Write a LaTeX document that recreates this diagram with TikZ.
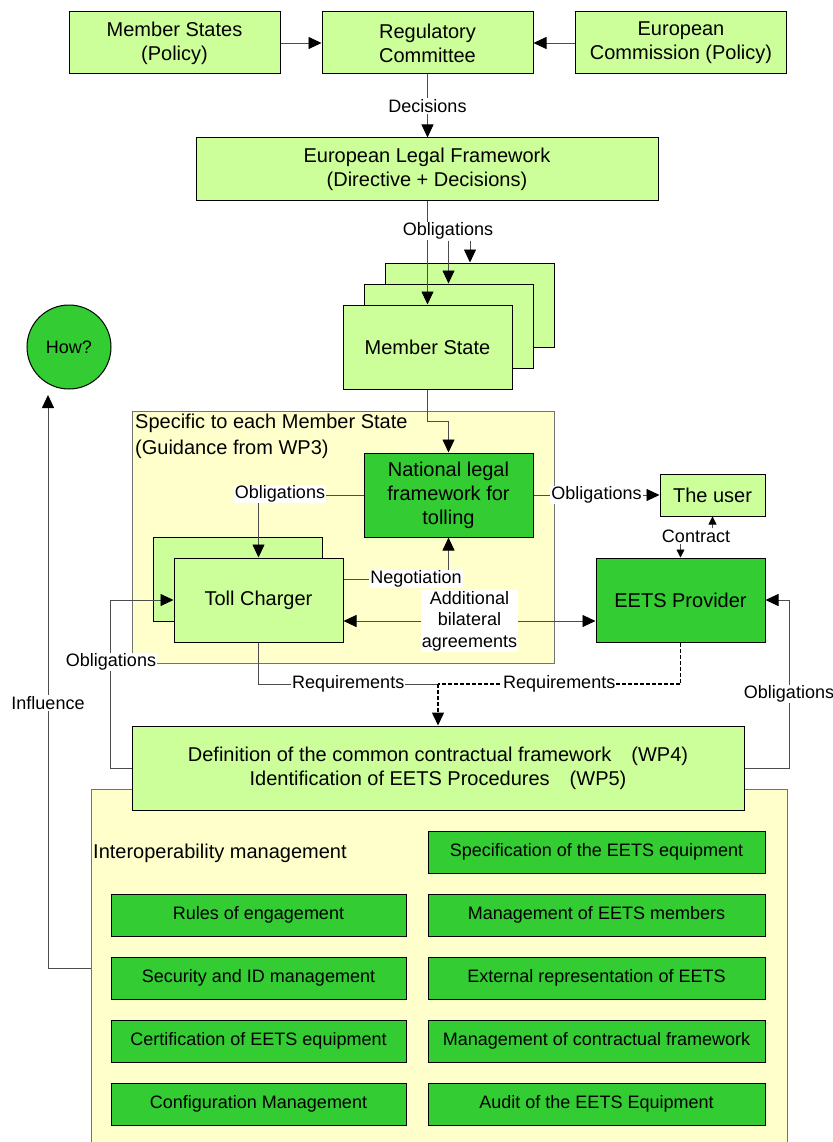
\documentclass[tikz,border=0pt]{standalone}
\usepackage{fontspec}
\setmainfont{Liberation Sans}
\usetikzlibrary{arrows.meta,positioning}
\definecolor{mylightgreen}{RGB}{204,255,153}
\definecolor{mygreen}{RGB}{51,204,51}
\definecolor{myyellow}{RGB}{255,255,204}
\newcommand{\mybigfont}{\fontsize{20}{24}\selectfont}
\newcommand{\mysmallfont}{\fontsize{18}{21.5}\selectfont}
\tikzstyle{lbox}=[draw,fill=mylightgreen,rectangle,line width=1pt,align=center,inner sep=0pt,font=\mybigfont]
\tikzstyle{topbox}=[lbox,minimum width=211pt,minimum height=62pt]
\tikzstyle{bigbox}=[lbox,minimum width=169pt,minimum height=84pt]
\tikzstyle{item}=[lbox,fill=mygreen,font=\mysmallfont,minimum height=42pt]
\tikzstyle{lbl}=[fill=white,inner sep=1pt,align=center,font=\mysmallfont]
\tikzstyle{region}=[fill=myyellow,draw=black!55,line width=0.8pt]
\tikzstyle{conn}=[draw=black!70,line width=0.8pt]
\tikzstyle{short}=[-{Triangle[length=8pt,width=8pt,color=black]}]
\tikzstyle{dashline}=[draw=black,line width=1.5pt,dash pattern=on 4pt off 2pt]

\begin{document}
\begin{tikzpicture}[x=1pt,y=-1pt,>={Triangle[length=13pt,width=12pt,color=black]}]
\useasboundingbox (0,0) rectangle (832,1142);
% yellow areas
\draw[region] (132,411) rectangle (554,663);
\fill[myyellow] (91,789) rectangle (787,1142);
\draw[draw=black!55,line width=0.8pt] (91,1142) -- (91,789) -- (787,789) -- (787,1142);
% top
\draw (174.5,43) node [topbox] (ms) {Member States\\(Policy)};
\draw (427.5,43) node [topbox] (rc) {Regulatory\\Committee};
\draw (681,43) node [topbox] (ec) {European\\Commission (Policy)};
\draw (427,169) node [lbox,minimum width=462pt,minimum height=62pt] (elf) {European Legal Framework\\(Directive + Decisions)};
\draw (470,305) node [bigbox] (msC) {};
\draw (448.5,326) node [bigbox] (msB) {};
\draw (427.5,347) node [bigbox] (msA) {Member State};
\draw (69,347) node [draw,fill=mygreen,circle,line width=1pt,minimum size=84pt,font=\mysmallfont] (how) {How?};
% member state level
\draw (133,412) node [anchor=north west,align=left,inner sep=2pt,font={\fontsize{20}{26}\selectfont}] (spec) {Specific to each Member State\\(Guidance from WP3)};
\draw (448.5,495) node [bigbox,fill=mygreen] (nlf) {National legal\\framework for\\tolling};
\draw (712.5,495) node [lbox,minimum width=105pt,minimum height=42pt] (user) {The user};
\draw (237.5,579) node [bigbox] (tcB) {};
\draw (258.5,600) node [bigbox] (tcA) {Toll Charger};
\draw (680.5,600) node [bigbox,fill=mygreen] (eets) {EETS Provider};
\draw (438,768) node [lbox,minimum width=612pt,minimum height=84pt] (def) {Definition of the common contractual framework\quad(WP4)\\Identification of EETS Procedures\quad(WP5)};
% interoperability management
\draw (91,853) node [anchor=west,inner sep=2pt,font=\mybigfont] (imgmt) {Interoperability management};
\draw (596.5,852) node [item,minimum width=337pt] (i1) {Specification of the EETS equipment};
\draw (258.5,915) node [item,minimum width=295pt] (i2) {Rules of engagement};
\draw (596.5,915) node [item,minimum width=337pt] (i3) {Management of EETS members};
\draw (258.5,978) node [item,minimum width=295pt] (i4) {Security and ID management};
\draw (596.5,978) node [item,minimum width=337pt] (i5) {External representation of EETS};
\draw (258.5,1041) node [item,minimum width=295pt] (i6) {Certification of EETS equipment};
\draw (596.5,1041) node [item,minimum width=337pt] (i7) {Management of contractual framework};
\draw (258.5,1104) node [item,minimum width=295pt] (i8) {Configuration Management};
\draw (596.5,1104) node [item,minimum width=337pt] (i9) {Audit of the EETS Equipment};
% connectors
\draw[conn,->] (ms) -- (rc);
\draw[conn,->] (ec) -- (rc);
\draw[conn,->] (rc.south) -- node[lbl] (dec) {Decisions} (rc.south |- elf.north);
\draw[conn,->] (msA.north |- elf.south) -- (msA.north);
\draw (448,231) node [lbl] (obl1) {Obligations};
\draw[conn,->] (obl1.south -| msB.north) -- (msB.north);
\draw[conn,->] (obl1.south -| msC.north) -- (msC.north);
\draw[conn,->] (msA.south) -- ++(0,32) -| (nlf.north);
\draw[conn,->] (nlf.west) -| (tcA.north);
\draw (280,494) node [lbl] (obl2) {Obligations};
\draw[conn,->] (nlf.east) -- node[lbl] (obl3) {Obligations} (user.west);
\draw (696,536) node [lbl] (contr) {Contract};
\draw[conn,short] (contr.north -| user.south) -- (user.south);
\draw[conn,short] (contr.south -| eets.north) -- (eets.north);
\draw[conn,->] ([yshift=21pt]tcA.east) -| (nlf.south);
\draw (416,579) node [lbl] (neg) {Negotiation};
\draw[conn,<->] ([yshift=-21pt]tcA.east) -- node[lbl] (add) {Additional\\bilateral\\agreements} ([yshift=-21pt]eets.west);
\draw[conn,->] (def.west) -- ++(-21,0) |- (tcA.west);
\draw (111,662) node [lbl] (obl4) {Obligations};
\draw[conn,->] (def.east) -- ++(45,0) |- (eets.east);
\draw (789,694) node [lbl] (obl5) {Obligations};
\coordinate (req) at (438,684);
\draw[conn] (tcA.south) |- node[lbl,pos=0.75] (req1) {Requirements} (req);
\draw[dashline] (eets.south) |- node[lbl,pos=0.75] (req2) {Requirements} (req);
\draw[dashline,->] (req) -- (def.north);
\coordinate (infl) at (91,968);
\coordinate (howin) at (48,395);
\draw[conn,->] (infl) -| (howin);
\draw (48,703) node [lbl] (infl1) {Influence};
\end{tikzpicture}
\end{document}
